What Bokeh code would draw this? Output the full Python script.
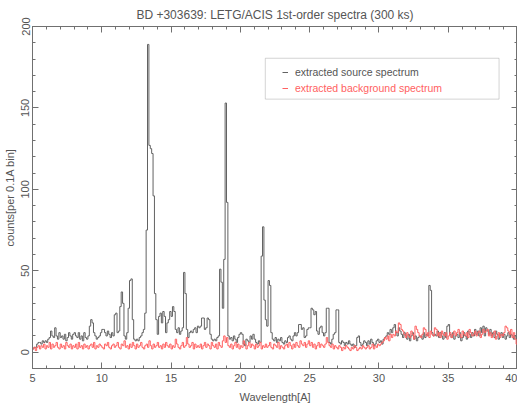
from bokeh.plotting import figure
from bokeh.models import (Range1d, LinearAxis, SingleIntervalTicker, Legend, LegendItem,
                          BoxAnnotation, CustomJSTickFormatter)
from bokeh.embed import file_html
from bokeh.resources import INLINE

# ---- data: counts per 0.1 A bin, bins starting at 5.0 A ----
wl_start = 5.0
bin_width = 0.1

source_counts = [
    2, 3, 3, 5, 6, 6, 5, 7, 6, 7,            # 5
    6, 8, 9, 13, 10, 9, 15, 10, 8, 12,       # 6
    9, 10, 8, 11, 7, 9, 12, 10, 8, 11,       # 7
    12, 10, 9, 12, 8, 10, 7, 12, 9, 8,       # 8
    10, 16, 20, 18, 12, 10, 8, 9, 10, 12,    # 9
    14, 14, 12, 10, 13, 11, 9, 12, 10, 23,   # 10
    24, 12, 13, 28, 37, 30, 10, 8, 12, 27,   # 11
    44, 45, 20, 8, 7, 8, 7, 9, 10, 12,       # 12
    14, 24, 75, 189, 127, 125, 122, 96, 36, 20,  # 13
    11, 22, 24, 18, 25, 22, 12, 18, 20, 25,  # 14
    22, 28, 25, 14, 12, 15, 11, 13, 15, 49,  # 15
    36, 14, 9, 12, 13, 12, 14, 15, 12, 16,   # 16
    15, 16, 21, 21, 14, 15, 21, 20, 11, 8,   # 17
    7, 8, 7, 9, 10, 51, 43, 27, 57, 153,     # 18
    92, 10, 8, 9, 7, 10, 8, 6, 9, 11,        # 19
    12, 11, 5, 4, 8, 7, 6, 10, 8, 11,        # 20
    8, 6, 5, 7, 6, 59, 77, 32, 20, 16,       # 21
    44, 41, 12, 8, 7, 9, 6, 8, 7, 9,         # 22
    6, 5, 7, 6, 9, 10, 8, 7, 10, 12,         # 23
    10, 12, 17, 17, 14, 15, 9, 10, 14, 15,   # 24
    15, 27, 26, 23, 25, 13, 11, 15, 16, 12,  # 25
    10, 12, 27, 27, 6, 5, 8, 11, 12, 26,     # 26
    26, 6, 5, 7, 6, 4, 6, 5, 7, 5,           # 27
    4, 5, 3, 4, 9, 10, 6, 4, 5, 7,           # 28
    6, 4, 7, 5, 8, 6, 4, 5, 7, 8,            # 29
    6, 7, 5, 8, 9, 10, 12, 11, 14, 12,       # 30
    15, 17, 12, 10, 15, 13, 11, 9, 12, 10,   # 31
    8, 11, 7, 10, 12, 8, 10, 7, 9, 10,       # 32
    10, 8, 12, 9, 11, 10, 41, 38, 12, 10,    # 33
    11, 10, 13, 9, 12, 10, 8, 12, 9, 16,     # 34
    17, 11, 9, 12, 8, 10, 11, 9, 12, 7,      # 35
    9, 12, 10, 8, 13, 11, 9, 12, 10, 14,     # 36
    11, 13, 10, 15, 12, 16, 10, 15, 13, 11,  # 37
    14, 10, 12, 9, 13, 11, 8, 10, 12, 9,     # 38
    11, 8, 10, 12, 9, 11, 10, 8, 10, 8,      # 39
]

background_counts = [
    2, 3, 1, 3, 4, 2, 4, 3, 5, 2,            # 5
    4, 3, 6, 2, 5, 3, 4, 6, 3, 2,            # 6
    5, 3, 4, 2, 6, 4, 3, 5, 2, 4,            # 7
    3, 5, 2, 6, 3, 4, 2, 5, 3, 4,            # 8
    2, 4, 5, 3, 6, 2, 4, 3, 5, 4,            # 9
    3, 2, 5, 4, 6, 3, 2, 4, 5, 3,            # 10
    4, 6, 3, 2, 5, 4, 7, 3, 4, 2,            # 11
    5, 3, 6, 4, 2, 5, 3, 4, 6, 3,            # 12
    2, 4, 5, 3, 7, 4, 2, 5, 3, 4,            # 13
    6, 3, 4, 2, 5, 3, 6, 4, 3, 5,            # 14
    2, 4, 3, 8, 5, 3, 2, 4, 6, 3,            # 15
    4, 9, 5, 3, 4, 6, 2, 5, 3, 4,            # 16
    3, 5, 2, 4, 6, 3, 5, 4, 2, 6,            # 17
    4, 3, 5, 2, 6, 4, 3, 7, 10, 6,           # 18
    9, 4, 3, 5, 2, 4, 6, 3, 5, 2,            # 19
    4, 3, 7, 5, 2, 4, 6, 3, 5, 4,            # 20
    2, 5, 3, 4, 6, 2, 4, 3, 5, 3,            # 21
    4, 6, 3, 2, 5, 4, 3, 6, 2, 4,            # 22
    3, 2, 4, 5, 3, 6, 4, 2, 5, 3,            # 23
    6, 4, 3, 7, 5, 4, 6, 3, 5, 7,            # 24
    4, 6, 3, 5, 2, 4, 6, 3, 5, 4,            # 25
    3, 5, 9, 6, 4, 3, 5, 2, 4, 3,            # 26
    2, 4, 3, 1, 3, 2, 4, 3, 2, 1,            # 27
    3, 2, 4, 3, 1, 2, 3, 2, 4, 3,            # 28
    2, 3, 4, 2, 3, 5, 2, 4, 3, 5,            # 29
    4, 5, 6, 7, 9, 8, 10, 7, 11, 9,          # 30
    11, 10, 13, 12, 18, 17, 14, 13, 11, 9,   # 31
    12, 10, 9, 13, 11, 8, 16, 14, 12, 10,    # 32
    9, 11, 15, 14, 10, 12, 9, 13, 11, 10,    # 33
    15, 14, 10, 12, 9, 13, 11, 10, 12, 8,    # 34
    10, 12, 9, 11, 13, 10, 12, 14, 11, 9,    # 35
    13, 11, 10, 12, 9, 14, 12, 10, 11, 13,   # 36
    10, 12, 13, 9, 11, 14, 12, 13, 14, 10,   # 37
    12, 9, 11, 13, 8, 10, 12, 9, 11, 10,     # 38
    12, 16, 15, 13, 11, 14, 9, 12, 8, 5,     # 39
]

x_ticks_interval = 5
y_ticks_interval = 50
title_text = "BD +303639: LETG/ACIS 1st-order spectra (300 ks)"
x_label = "Wavelength[A]"
y_label = "counts[per 0.1A bin]"
legend_labels = ["extracted source spectrum", "extracted background spectrum"]

# ---- styling ----
FONT = "Liberation Sans"
TXT = "#555555"
AX = "#707070"
SRC_COLOR = "#626262"
BKG_COLOR = "#ff6161"
LEG_SRC_TXT = "#555555"

n = len(source_counts)
edges = [wl_start + bin_width * i for i in range(n + 1)]
src_y = source_counts + [source_counts[-1]]
bkg_y = background_counts + [background_counts[-1]]

FH = 342
p = figure(frame_width=485, frame_height=FH, output_backend="svg", toolbar_location=None,
           x_range=Range1d(5, 40), y_range=Range1d(-10, 200),
           title=title_text, min_border=0)
p.title.align = "center"
p.title.text_font = FONT
p.title.text_font_size = "12px"
p.title.text_font_style = "normal"
p.title.text_color = TXT
p.title.standoff = 10
p.grid.visible = False
p.outline_line_color = AX
p.background_fill_color = "white"
p.border_fill_color = "white"

def style_axis(ax):
    ax.axis_line_color = AX
    ax.major_tick_line_color = AX
    ax.minor_tick_line_color = AX
    ax.major_tick_in = 6
    ax.major_tick_out = 0
    ax.minor_tick_in = 3
    ax.minor_tick_out = 0
    ax.major_label_text_font = FONT
    ax.major_label_text_font_size = "11px"
    ax.major_label_text_color = TXT
    ax.axis_label_text_font = FONT
    ax.axis_label_text_font_size = "11px"
    ax.axis_label_text_font_style = "normal"
    ax.axis_label_text_color = TXT

xt = SingleIntervalTicker(interval=x_ticks_interval, num_minor_ticks=5)
yt = SingleIntervalTicker(interval=y_ticks_interval, num_minor_ticks=5)

p.xaxis.ticker = xt
p.yaxis.ticker = yt
for ax in p.xaxis + p.yaxis:
    style_axis(ax)
p.xaxis.axis_label = x_label
p.yaxis.axis_label = y_label
p.xaxis.major_label_standoff = 5
p.xaxis.axis_label_standoff = 6
p.yaxis.major_label_orientation = "vertical"
p.yaxis.major_label_standoff = 3
p.yaxis.axis_label_standoff = 3

blank = CustomJSTickFormatter(code="return ''")
top = LinearAxis(ticker=xt, formatter=blank, major_label_standoff=0)
right = LinearAxis(ticker=yt, formatter=blank, major_label_standoff=0)
style_axis(top)
style_axis(right)
p.add_layout(top, "above")
p.add_layout(right, "right")

r_src = p.step(edges, src_y, mode="after", line_color=SRC_COLOR, line_width=1)
r_bkg = p.step(edges, bkg_y, mode="after", line_color=BKG_COLOR, line_width=1)

# legend box
box = BoxAnnotation(left=21.8, right=38.67, bottom=155.4, top=180.5,
                    fill_alpha=0, line_color=AX, line_width=1)
p.add_layout(box)

for i, (lab, r, col) in enumerate(zip(legend_labels, [r_src, r_bkg], [LEG_SRC_TXT, BKG_COLOR])):
    leg = Legend(items=[LegendItem(label=lab, renderers=[r])],
                 location=(250, FH - 52 - 16 * i), glyph_width=6, glyph_height=12,
                 label_height=12, label_standoff=7, padding=0, margin=0,
                 border_line_alpha=0, background_fill_alpha=0,
                 label_text_font=FONT, label_text_font_size="10.5px",
                 label_text_color=col)
    p.add_layout(leg)

open("out.html", "w").write(file_html(p, INLINE))
